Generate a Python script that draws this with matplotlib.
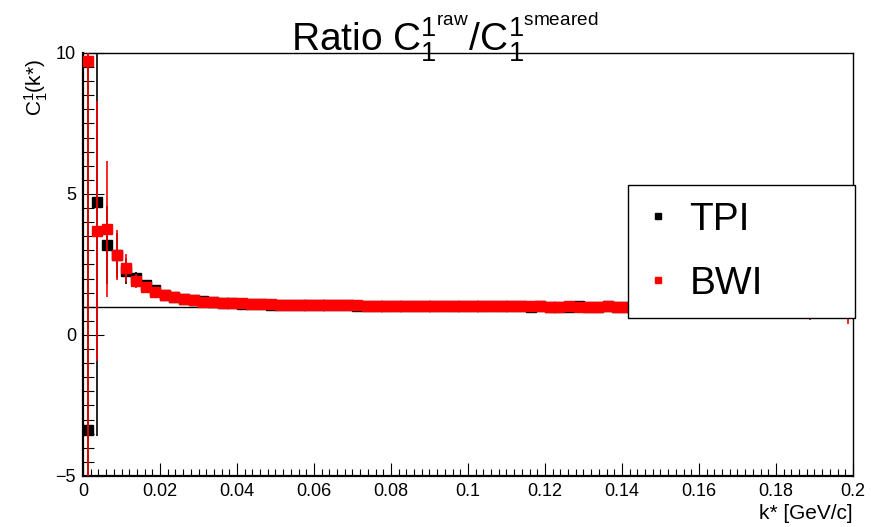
import numpy as np
import matplotlib.pyplot as plt
from matplotlib.lines import Line2D

plt.rcParams['font.family'] = ['Liberation Sans', 'DejaVu Sans']
plt.rcParams['mathtext.fontset'] = 'custom'
plt.rcParams['mathtext.rm'] = 'Liberation Sans'
plt.rcParams['mathtext.it'] = 'Liberation Sans'
plt.rcParams['mathtext.bf'] = 'Liberation Sans:bold'

# binning: 80 bins of k* from 0 to 0.2 GeV/c
bin_edges = np.linspace(0.0, 0.2, 81)
k_centres = 0.5*(bin_edges[1:] + bin_edges[:-1])

# TPI ratio (black)
tpi_ratio = [
    -3.37, 4.72, 3.19, 2.82, 2.27, 2.02, 1.77, 1.58, 1.43, 1.35,
    1.28, 1.23, 1.19, 1.16, 1.14, 1.13, 1.11, 1.10, 1.09, 1.08,
    1.08, 1.07, 1.07, 1.06, 1.06, 1.05, 1.05, 1.05, 1.04, 1.04,
    1.04, 1.04, 1.04, 1.03, 1.03, 1.03, 1.03, 1.03, 1.03, 1.03,
    1.02, 1.02, 1.01, 1.01, 1.01, 1.01, 1.00, 1.01, 1.00, 0.99,
    1.00, 1.01, 0.99, 1.00, 1.01, 1.00, 1.00, 1.00, 1.00, 1.00,
    1.00, 1.00, 1.00, 1.00, 1.00, 1.00, 1.00, 1.00, 1.00, 1.00,
    1.00, 1.00, 1.00, 1.00, 1.00, 1.00, 1.00, 1.00, 1.00, 1.00,
]
tpi_err = [
    20.0, 8.30, 1.40, 0.80, 0.45, 0.22, 0.14, 0.10, 0.08, 0.06,
    0.05, 0.04, 0.04, 0.03, 0.03, 0.03, 0.02, 0.02, 0.02, 0.02,
] + [0.02]*60

# BWI ratio (red)
bwi_ratio = [
    9.70, 3.69, 3.76, 2.84, 2.38, 1.91, 1.70, 1.54, 1.41, 1.34,
    1.27, 1.23, 1.18, 1.16, 1.14, 1.13, 1.12, 1.11, 1.10, 1.09,
    1.08, 1.08, 1.07, 1.07, 1.06, 1.06, 1.05, 1.05, 1.05, 1.04,
    1.04, 1.04, 1.04, 1.03, 1.03, 1.03, 1.03, 1.03, 1.03, 1.03,
    1.03, 1.02, 1.01, 1.02, 1.01, 1.01, 1.01, 1.02, 1.00, 0.99,
    1.01, 1.00, 0.99, 1.00, 1.01, 1.00, 1.00, 1.00, 1.00, 1.00,
    1.00, 1.00, 1.00, 1.00, 1.00, 1.00, 1.00, 1.00, 1.00, 1.00,
    1.00, 1.00, 1.00, 1.00, 1.00, 1.00, 1.00, 1.00, 1.00, 1.00,
]
bwi_err = [
    20.0, 4.60, 2.40, 0.90, 0.50, 0.25, 0.16, 0.11, 0.08, 0.06,
    0.05, 0.04, 0.04, 0.03, 0.03, 0.03, 0.02, 0.02, 0.02, 0.02,
] + [0.02]*51 + [0.45, 0.02, 0.02, 0.02, 0.48, 0.02, 0.02, 0.02, 0.62]

fig = plt.figure(figsize=(8.71, 5.27), dpi=100)
ax = fig.add_axes([0.0953, 0.0968, 0.884, 0.8027])

ax.axhline(1.0, color='black', linewidth=1.0, zorder=1.5)

ax.errorbar(k_centres, tpi_ratio, yerr=tpi_err, fmt='s', color='black',
            markersize=7, elinewidth=1.2, capsize=0, zorder=2)
ax.errorbar(k_centres, bwi_ratio, yerr=bwi_err, fmt='s', color='red',
            markersize=7, elinewidth=1.2, capsize=0, zorder=3)

ax.set_xlim(0, 0.2)
ax.set_ylim(-5, 10)
ax.set_xticks(np.arange(0, 0.2001, 0.02))
ax.set_xticklabels(['0', '0.02', '0.04', '0.06', '0.08', '0.1', '0.12',
                    '0.14', '0.16', '0.18', '0.2'])
ax.set_xticks(np.arange(0, 0.2001, 0.002), minor=True)
ax.set_yticks([-5, 0, 5, 10])
ax.set_yticklabels(['\u22125', '0', '5', '10'])
ax.set_yticks(np.arange(-5, 10.01, 0.5), minor=True)

ax.tick_params(axis='both', which='both', direction='in', top=False, right=False,
               labelsize=13, width=0.8, color='black')
ax.tick_params(axis='x', which='major', length=9.5, pad=5)
ax.tick_params(axis='x', which='minor', length=5)
ax.tick_params(axis='y', which='major', length=15, pad=5)
ax.tick_params(axis='y', which='minor', length=7.7)

for side in ['left', 'bottom']:
    ax.spines[side].set_linewidth(1.6)
for side in ['top', 'right']:
    ax.spines[side].set_linewidth(1.0)

ax.set_xlabel('k* [GeV/c]', fontsize=15, loc='right', labelpad=3)
ax.set_ylabel(r'C$_1^1$(k*)', fontsize=15, loc='top', labelpad=4)
ax.yaxis.label.set_y(0.985)

# legend shows markers only, as ROOT does with "p" option
handles = [
    Line2D([], [], marker='s', linestyle='none', color='black', markersize=5),
    Line2D([], [], marker='s', linestyle='none', color='red', markersize=5),
]
leg = ax.legend(handles, ['TPI', 'BWI'], loc='upper left',
                bbox_to_anchor=(0.708, 0.376, 0.295, 0.312),
                mode='expand', fontsize=28, frameon=True, fancybox=False,
                edgecolor='black', framealpha=1.0, borderpad=0.43,
                labelspacing=0.72, handlelength=0.7, handletextpad=0.45,
                borderaxespad=0)
leg.get_frame().set_linewidth(1.0)
leg.set_zorder(5)

fig.text(0.511, 1 - 52/527, r'Ratio C$_1^{1^{raw}}$/C$_1^{1^{smeared}}$',
         fontsize=28, ha='center', va='baseline')

fig.savefig('out.png', dpi=100)
